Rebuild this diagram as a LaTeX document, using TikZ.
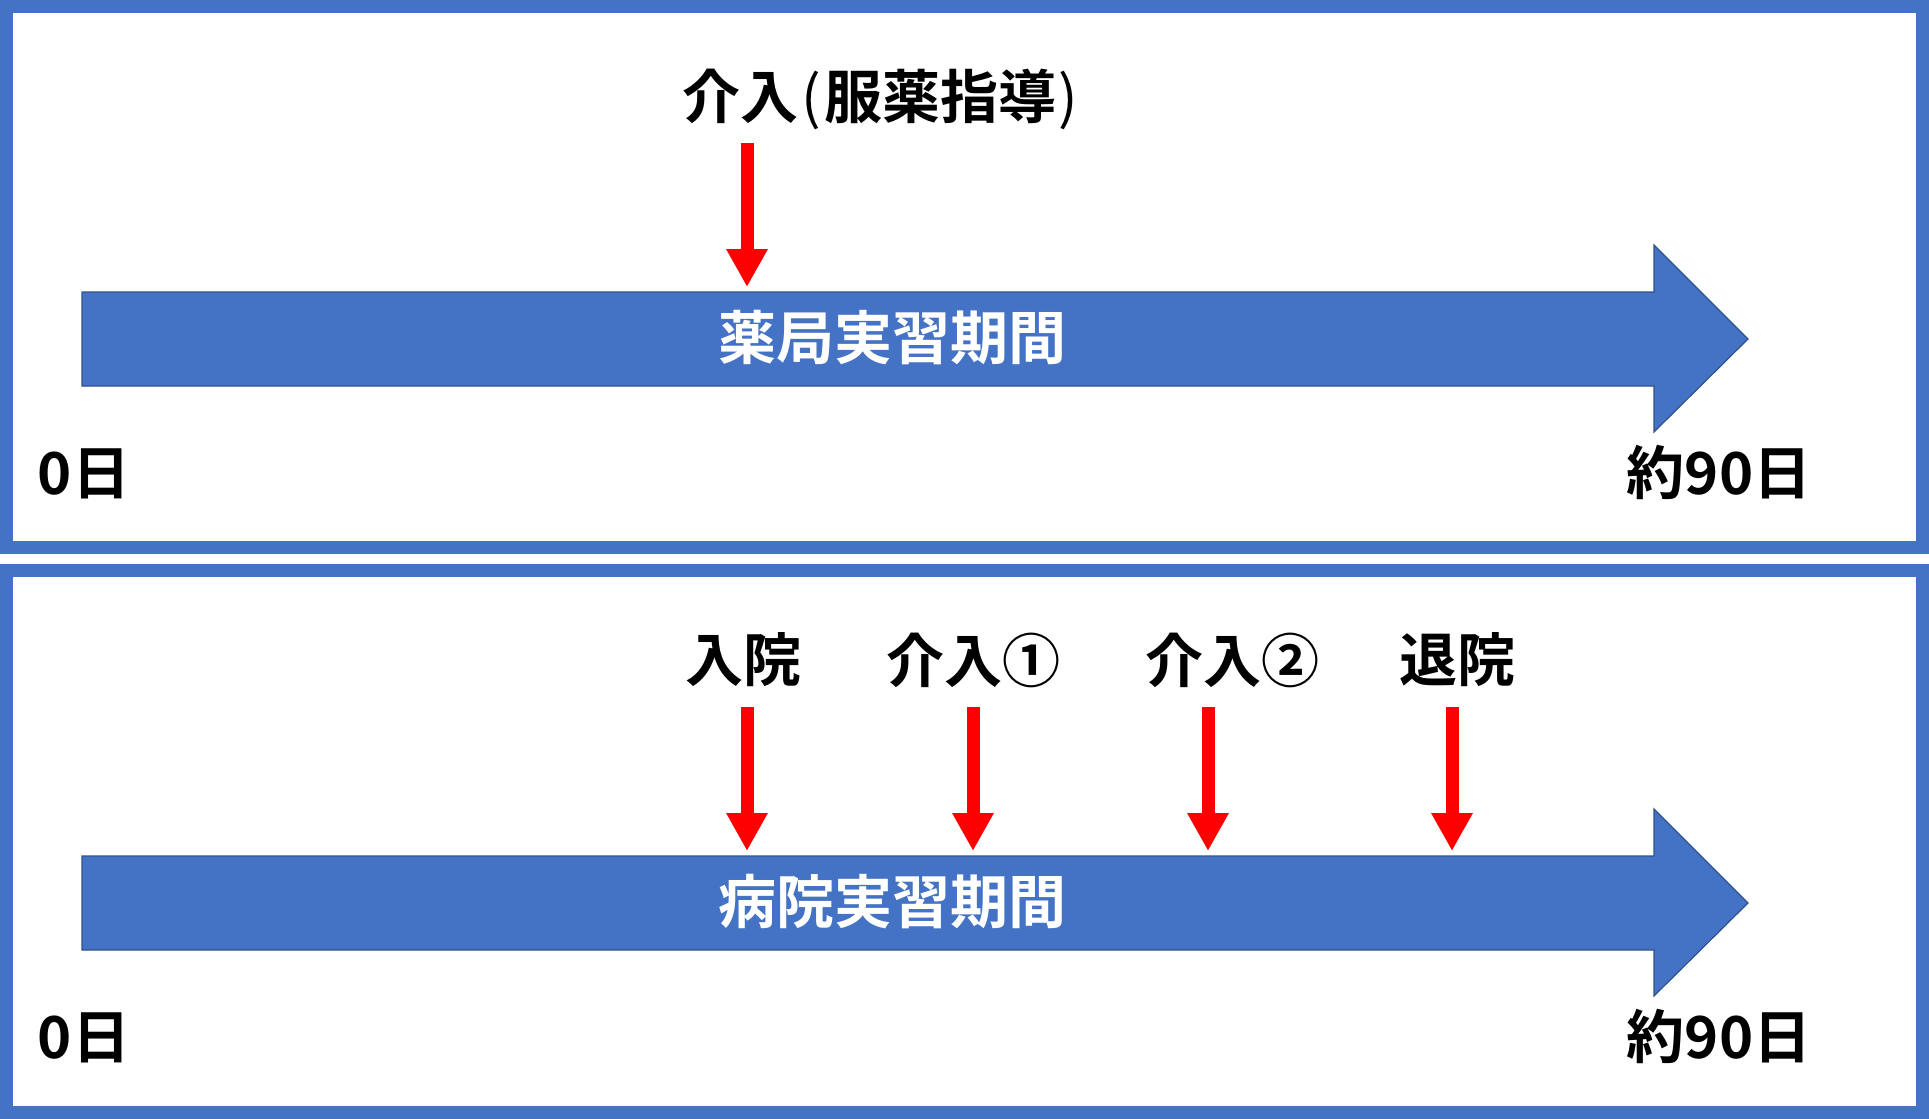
\documentclass[tikz,border=0pt]{standalone}
\usepackage{fontspec}
\setmainfont{Noto Sans CJK JP}[BoldFont={Noto Sans CJK JP Bold}]
\usepackage{xcolor}
\usepackage{tikz}
\usetikzlibrary{arrows.meta}
\definecolor{barblue}{HTML}{4472C4}
\definecolor{bardark}{HTML}{2F528F}
\tikzset{%
  framecol/.style={draw=barblue,line width=6.5pt},
  barcol/.style={fill=barblue,draw=bardark,line width=0.6pt},
  arrred/.style={draw=red,line width=6.5pt,-{Triangle[width=19.5pt,length=19pt]}},
  labtext/.style={font=\fontsize{29}{35}\selectfont\bfseries,inner sep=0pt},
  bartext/.style={labtext,text=white}
}
\newcommand\thinpar[1]{{\mdseries\kern0.05em#1\kern0.05em}}

\begin{document}
\begin{tikzpicture}[x=0.5pt,y=-0.5pt]
            \useasboundingbox (0,0) rectangle (1929,1119);
            % pharmacy
            \draw[framecol] (6.5,6.5) rectangle (1922.5,547.5);
            \draw[barcol] (82,292) -- (1654,292) -- (1654,245) -- (1748,339)
                -- (1654,432) -- (1654,386) -- (82,386) -- cycle;
            \node[bartext](pharmbar) at (892,338) {薬局実習期間};
            \node[labtext](pharmint) at (882,99) {介入\thinpar{(}服薬指導\thinpar{)}};
            \coordinate (pharmfrom) at (747,143);
            \coordinate (pharmto) at (747,287);
            \draw[arrred] (pharmfrom) -- (pharmto);
            \node[labtext](pharmstart) at (84,474) {0日};
            \node[labtext](pharmend) at (1719,472) {約90日};
            % hospital
            \begin{scope}[yshift=-282pt]
            \draw[framecol] (6.5,6.5) rectangle (1922.5,548.5);
            \draw[barcol] (82,292) -- (1654,292) -- (1654,245) -- (1748,339)
                -- (1654,432) -- (1654,386) -- (82,386) -- cycle;
            \node[bartext](hospbar) at (892,338) {病院実習期間};
            \node[labtext](hospin) at (743,96) {入院};
            \node[labtext](hospinta) at (973,96) {介入①};
            \node[labtext](hospintb) at (1232,96) {介入②};
            \node[labtext](hospout) at (1457,96) {退院};
            \coordinate (infrom) at (747,143);
            \coordinate (into) at (747,287);
            \coordinate (intafrom) at (973,143);
            \coordinate (intato) at (973,287);
            \coordinate (intbfrom) at (1208,143);
            \coordinate (intbto) at (1208,287);
            \coordinate (outfrom) at (1452,143);
            \coordinate (outto) at (1452,287);
            \draw[arrred] (infrom) -- (into);
            \draw[arrred] (intafrom) -- (intato);
            \draw[arrred] (intbfrom) -- (intbto);
            \draw[arrred] (outfrom) -- (outto);
            \node[labtext](hospstart) at (84,474) {0日};
            \node[labtext](hospend) at (1719,472) {約90日};
            \end{scope}
        \end{tikzpicture}
\end{document}
